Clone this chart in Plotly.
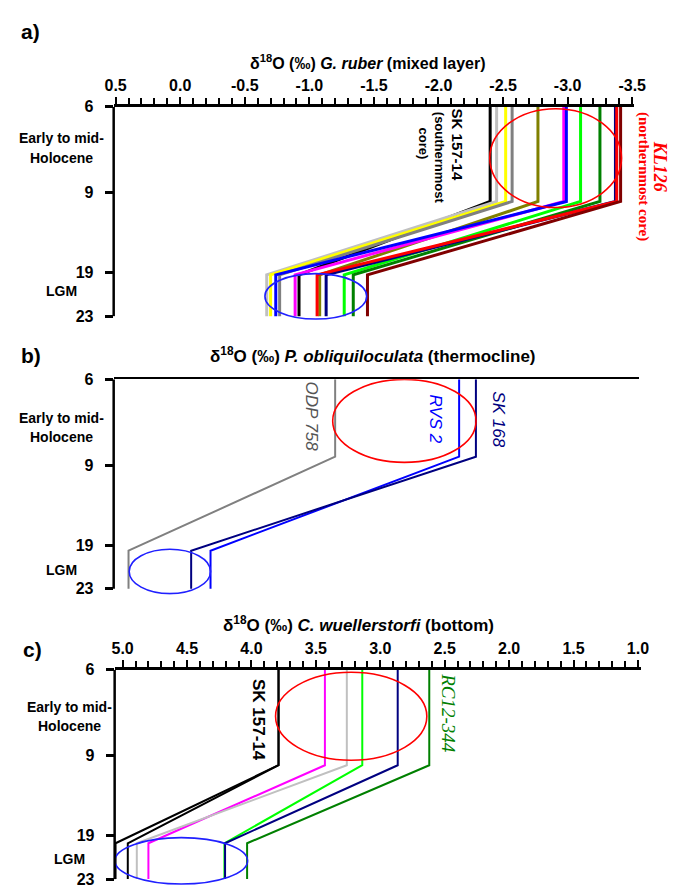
import numpy as np
import plotly.graph_objects as go

W, H = 683, 890

# ---------------- data ----------------
age_ticks = [6, 9, 19, 23]
age_ticklabels = ["6", "9", "19", "23"]

# Panel a: G. ruber (mixed layer)
a_colors = ["#000000", "#c0c0c0", "#ffff00", "#808080", "#808000", "#ff00ff",
            "#0000ff", "#00ff00", "#008000", "#000080", "#ff0000", "#800000"]
a_holocene = [-2.40, -2.45, -2.52, -2.57, -2.77, -2.97, -2.99, -3.10, -3.25, -3.37, -3.38, -3.41]
a_lgm = [-0.92, -0.67, -0.70, -0.77, -1.08, -0.89, -0.74, -1.27, -1.34, -1.13, -1.06, -1.45]
a_ages = [6, 10.1, 19.2, 23]
a_xticks = [0.5, 0.0, -0.5, -1.0, -1.5, -2.0, -2.5, -3.0, -3.5]
a_xticklabels = ["0.5", "0.0", "-0.5", "-1.0", "-1.5", "-2.0", "-2.5", "-3.0", "-3.5"]

# Panel b: P. obliquiloculata (thermocline)
b_colors = ["#808080", "#0000ff", "#000080"]
b_holocene = [-1.20, -2.16, -2.29]
b_lgm = [0.40, -0.235, -0.085]
b_ages = [6, 8.7, 19.5, 23]

# Panel c: C. wuellerstorfi (bottom)
c_colors = ["#000000", "#000000", "#ff00ff", "#c0c0c0", "#00ff00", "#000080", "#008000"]
c_holocene = [3.79, 3.79, 3.43, 3.26, 3.14, 2.865, 2.62]
c_lgm = [5.055, 4.96, 4.80, 4.89, 4.21, 4.205, 4.034]
c_ages = [6, 10.2, 19.7, 23]
c_xticks = [5.0, 4.5, 4.0, 3.5, 3.0, 2.5, 2.0, 1.5, 1.0]
c_xticklabels = ["5.0", "4.5", "4.0", "3.5", "3.0", "2.5", "2.0", "1.5", "1.0"]

# highlighted regions: (center value, half width, age from, age to, colour)
a_regions = [(-2.907, 0.51, 6.07, 10.85, "#ff0000"), (-1.05, 0.394, 19.09, 23.27, "#2020ff")]
b_regions = [(-1.736, 0.555, 6.0, 8.90, "#ff0000"), (0.08, 0.315, 19.36, 23.45, "#2020ff")]
c_regions = [(3.226, 0.587, 6.09, 9.58, "#ff0000"), (4.545, 0.515, 19.18, 23.45, "#2020ff")]

# ---------------- schematic age scale ----------------
tick_pos = [0, 87, 168, 212]
EXTRA = 6  # room below the last tick so the highlight ellipses are not clipped


def pos(age):
    age = np.asarray(age, dtype=float)
    out = np.interp(age, age_ticks, tick_pos)
    lo = (tick_pos[1] - tick_pos[0]) / (age_ticks[1] - age_ticks[0])
    hi = (tick_pos[-1] - tick_pos[-2]) / (age_ticks[-1] - age_ticks[-2])
    out = np.where(age < age_ticks[0], tick_pos[0] + (age - age_ticks[0]) * lo, out)
    out = np.where(age > age_ticks[-1], tick_pos[-1] + (age - age_ticks[-1]) * hi, out)
    return out


fig = go.Figure()


def add_panel(hol, lgm, colors, ages, width, xa, ya, regions):
    for h, l, c in zip(hol, lgm, colors):
        fig.add_trace(go.Scatter(x=[h, h, l, l], y=pos(ages), mode="lines",
                                 line=dict(color=c, width=width),
                                 xaxis=xa, yaxis=ya, showlegend=False, hoverinfo="skip"))
    for cx, hw, a0, a1, col in regions:
        p0, p1 = pos([a0, a1])
        fig.add_shape(type="circle", xref=xa, yref=ya, x0=cx - hw, x1=cx + hw,
                      y0=p0, y1=p1, line=dict(color=col, width=1.6))
    # left axis line, from the first to the last age tick
    fig.add_shape(type="line", xref=xa + " domain", yref=ya, x0=0, x1=0,
                  y0=float(pos(age_ticks[0])), y1=float(pos(age_ticks[-1])),
                  line=dict(color="black", width=2.5))


add_panel(a_holocene, a_lgm, a_colors, a_ages, 3, "x", "y", a_regions)
add_panel(b_holocene, b_lgm, b_colors, b_ages, 2, "x2", "y2", b_regions)
add_panel(c_holocene, c_lgm, c_colors, c_ages, 2, "x3", "y3", c_regions)

FONT = "Liberation Sans"
bold_tick = dict(family=FONT, size=16, color="black", weight="bold")
ytick = dict(family=FONT, size=16, color="black", weight="bold")


def yaxis_cfg(top, anchor):
    bottom = top + tick_pos[-1] + EXTRA
    return dict(domain=[1 - bottom / H, 1 - top / H], range=[tick_pos[-1] + EXTRA, tick_pos[0]],
                anchor=anchor, showline=False,
                ticks="outside", ticklen=8, tickwidth=2.5, tickcolor="black",
                tickvals=list(pos(age_ticks)), ticktext=age_ticklabels, tickfont=ytick,
                ticklabelstandoff=8, showgrid=False, zeroline=False)


minor = dict(ticks="outside", ticklen=6, tickwidth=1.5, tickcolor="black", dtick=0.1, tick0=0)

fig.update_layout(
    width=W, height=H, margin=dict(l=0, r=0, t=0, b=0),
    plot_bgcolor="white", paper_bgcolor="white", showlegend=False,
    xaxis=dict(domain=[108 / W, 645 / W], range=[0.515, -3.515], side="top", anchor="y",
               showline=True, linewidth=2.5, linecolor="black", ticks="outside", ticklen=7,
               tickwidth=2, tickcolor="black", tickvals=a_xticks, ticktext=a_xticklabels,
               tickfont=bold_tick, minor=minor, showgrid=False, zeroline=False),
    yaxis=yaxis_cfg(100, "x"),
    xaxis2=dict(domain=[108 / W, 650 / W], range=[0.515, -3.553], side="top", anchor="y2",
                showline=True, linewidth=2, linecolor="black", ticks="", showticklabels=False,
                showgrid=False, zeroline=False),
    yaxis2=yaxis_cfg(376, "x2"),
    xaxis3=dict(domain=[109 / W, 652 / W], range=[5.062, 0.977], side="top", anchor="y3",
                showline=True, linewidth=2.5, linecolor="black", ticks="outside", ticklen=7,
                tickwidth=2, tickcolor="black", tickvals=c_xticks, ticktext=c_xticklabels,
                tickfont=bold_tick, minor=minor, showgrid=False, zeroline=False),
    yaxis3=yaxis_cfg(670, "x3"),
)


def px(x):
    return x / W


def py(y):
    return 1 - y / H


def note(text, x, y, size=14, color="black", family=FONT, angle=0, xanchor="center"):
    f = dict(family=family, size=size, color=color)
    fig.add_annotation(text=text, x=px(x), y=py(y), xref="paper", yref="paper",
                       showarrow=False, font=f, textangle=angle, xanchor=xanchor,
                       yanchor="middle")


# panel letters
note("<b>a)</b>", 10, 24, size=21, xanchor="left")
note("<b>b)</b>", 10, 352, size=21, xanchor="left")
note("<b>c)</b>", 12, 650, size=21, xanchor="left")

# titles
note("<b>δ<sup>18</sup>O (‰) <i>G. ruber</i> (mixed layer)</b>", 370, 55, size=16)
note("<b>δ<sup>18</sup>O (‰) <i>P. obliquiloculata</i> (thermocline)</b>", 376, 351, size=17)
note("<b>δ<sup>18</sup>O (‰) <i>C. wuellerstorfi</i> (bottom)</b>", 361, 624, size=17)

# left period labels
for cx, y1, y2, y3 in [(54, 132, 152, 287), (54, 415, 434, 569), (62, 708, 727, 862)]:
    note("<b>Early to mid-</b>", cx, y1, size=14)
    note("<b>Holocene</b>", cx, y2, size=14)
    note("<b>LGM</b>", cx, y3, size=14)

# core labels panel a
note("<b>SK 157-14</b>", 463, 138, size=15, angle=90)
note("<b>(southernmost</b>", 445, 152, size=13, angle=90)
note("<b>core)</b>", 428, 137, size=13, angle=90)
note("<b><i>KL126</i></b>", 672, 160, size=18, color="#ff0000", family="Liberation Serif", angle=90)
note("<b>(northernmost core)</b>", 654, 171, size=15, color="#ff0000", family="Liberation Serif", angle=90)

# core labels panel b
note("<i>ODP 758</i>", 312, 414, size=17, color="#555555", angle=90)
note("<i>RVS 2</i>", 440, 416, size=17, color="#0000ff", angle=90)
note("<i>SK 168</i>", 505, 417, size=17, color="#000080", angle=90)

# core labels panel c
note("<b>SK 157-14</b>", 258, 721, size=17, angle=90)
note("<i>RC12-344</i>", 454, 714, size=19, color="#008000", family="Liberation Serif", angle=90)

fig.write_html("out.html")
